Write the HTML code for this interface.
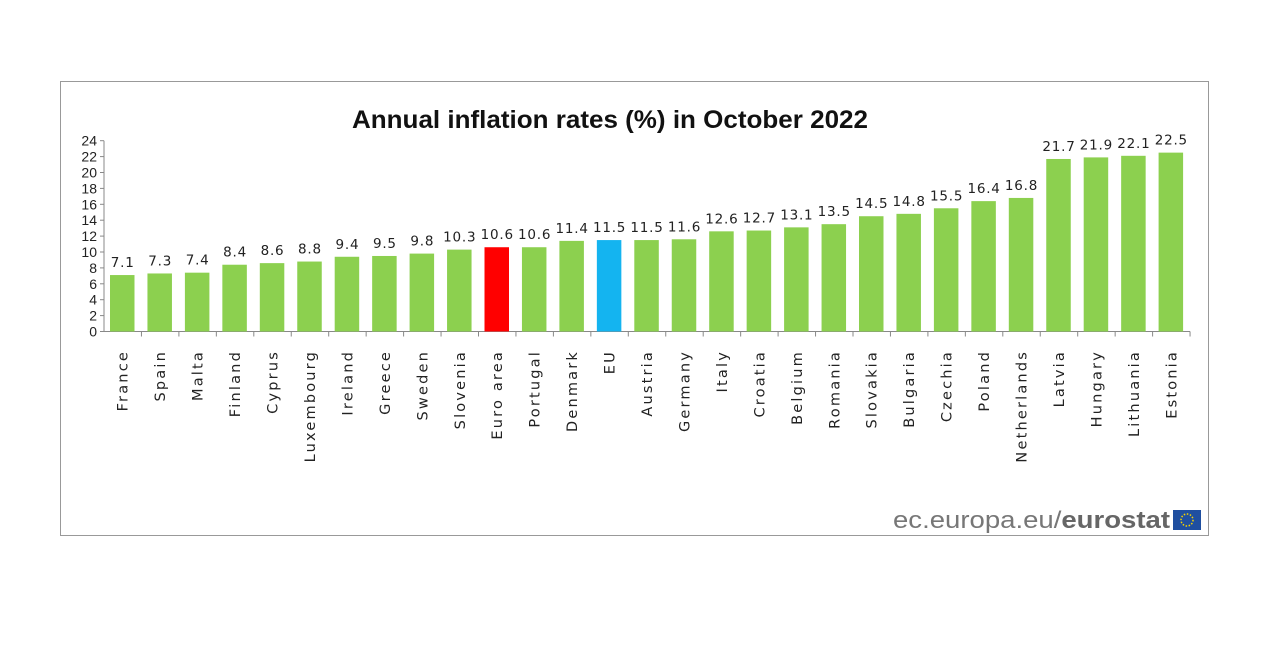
<!DOCTYPE html>
<html><head><meta charset="utf-8"><style>
body{margin:0;background:#fff;width:1280px;height:645px;overflow:hidden;font-family:"DejaVu Sans","Liberation Sans",sans-serif}
</style></head><body>
<svg width="1280" height="645">
<rect x="60.5" y="81.5" width="1148" height="454" fill="#fff" stroke="#999"/>
<text x="352" y="128" textLength="516" lengthAdjust="spacingAndGlyphs" font-family="Liberation Sans, sans-serif" font-weight="bold" font-size="25" fill="#111">Annual inflation rates (%) in October 2022</text>
<g id="plot"></g>
<text x="893" y="528" textLength="277" lengthAdjust="spacingAndGlyphs" font-family="Liberation Sans, sans-serif" font-size="24" fill="#777">ec.europa.eu/<tspan font-weight="bold" fill="#666">eurostat</tspan></text>
<rect x="1173" y="510" width="28" height="20" fill="#1f4fa0"/>
<circle cx="1187" cy="520" r="6" fill="none" stroke="#f5d400" stroke-width="1.5" stroke-dasharray="1.5 1.6"/>
</svg>
<script>
const categories=["France","Spain","Malta","Finland","Cyprus","Luxembourg","Ireland","Greece","Sweden","Slovenia","Euro area","Portugal","Denmark","EU","Austria","Germany","Italy","Croatia","Belgium","Romania","Slovakia","Bulgaria","Czechia","Poland","Netherlands","Latvia","Hungary","Lithuania","Estonia"];
const values=[7.1,7.3,7.4,8.4,8.6,8.8,9.4,9.5,9.8,10.3,10.6,10.6,11.4,11.5,11.5,11.6,12.6,12.7,13.1,13.5,14.5,14.8,15.5,16.4,16.8,21.7,21.9,22.1,22.5];
const yTicks=[0,2,4,6,8,10,12,14,16,18,20,22,24];
const NS="http://www.w3.org/2000/svg";
const g=document.getElementById('plot');
const x0=104,pitch=37.45,y0=331.5,ppu=7.95;
const X=i=>x0+i*pitch, Y=v=>y0-v*ppu;
function mk(t,a,p){const e=document.createElementNS(NS,t);for(const k in a)e.setAttribute(k,a[k]);(p||g).appendChild(e);return e;}
mk('line',{x1:x0,y1:Y(24),x2:x0,y2:y0,stroke:'#888'});
mk('line',{x1:x0,y1:y0,x2:X(categories.length),y2:y0,stroke:'#888'});
yTicks.forEach(t=>{
 mk('line',{x1:x0-4,y1:Y(t),x2:x0,y2:Y(t),stroke:'#888'});
 const tx=mk('text',{x:x0-7,y:Y(t)+5,'text-anchor':'end','font-size':14,fill:'#222','font-family':'Liberation Sans, sans-serif'});
 tx.textContent=t;
 
 
});
categories.forEach((c,i)=>{
 mk('line',{x1:X(i+1),y1:y0,x2:X(i+1),y2:y0+5,stroke:'#888'});
 const v=values[i];
 const col=c==="Euro area"?'#ff0000':c==="EU"?'#14b4f0':'#8cd04f';
 const r=mk('rect',{x:X(i)+6,y:Y(v),width:24.5,height:v*ppu,fill:col});
 
 
 const vl=mk('text',{x:X(i)+pitch/2,y:Y(v)-8,'text-anchor':'middle','font-size':13.5,'letter-spacing':0.8,fill:'#222'});
 vl.textContent=v.toFixed(1);
 
 
 const cx=X(i)+pitch/2+5,cy=350;
 const cl=mk('text',{x:cx,y:cy,'text-anchor':'end','font-size':14.5,'letter-spacing':2.2,fill:'#222',transform:`rotate(-90 ${cx} ${cy})`});
 cl.textContent=c;
 
 
});
</script>
</body></html>
